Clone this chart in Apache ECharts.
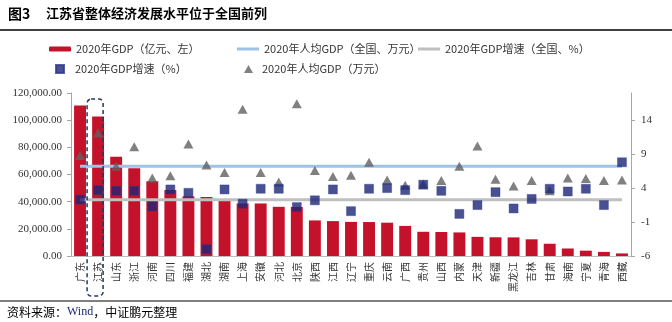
<!DOCTYPE html>
<html>
<head>
<meta charset="utf-8">
<script src="https://cdn.jsdelivr.net/npm/echarts@6/dist/echarts.min.js"></script>
<style>
  html, body { margin: 0; padding: 0; background: #fff; }
  #chart { width: 672px; height: 322px; }
</style>
</head>
<body>
<div id="chart"></div>
<script>
// Provinces, ranked by 2020 GDP
const provinces = ['广东','江苏','山东','浙江','河南','四川','福建','湖北','湖南','上海','安徽','河北','北京','陕西','江西','辽宁','重庆','云南','广西','贵州','山西','内蒙','天津','新疆','黑龙江','吉林','甘肃','海南','宁夏','青海','西藏'];

// 2020 GDP, 100 million yuan (left axis)
const gdp = [110761, 102719, 73129, 64613, 54997, 48599, 43904, 43443, 41782, 38701, 38681, 36207, 36103, 26182, 25692, 25115, 25003, 24522, 22157, 17827, 17652, 17360, 14084, 13798, 13699, 12311, 9017, 5532, 3921, 3006, 1903];

// 2020 GDP growth, % (right axis)
const gdpGrowth = [2.3, 3.7, 3.6, 3.6, 1.3, 3.8, 3.3, -5.0, 3.8, 1.7, 3.9, 3.9, 1.2, 2.2, 3.8, 0.6, 3.9, 4.0, 3.7, 4.5, 3.6, 0.2, 1.5, 3.4, 1.0, 2.4, 3.9, 3.5, 3.9, 1.5, 7.8];

// 2020 GDP per capita, 10 thousand yuan (right axis)
const gdpPerCapita = [8.8, 12.1, 7.2, 10.1, 5.5, 5.8, 10.5, 7.4, 6.3, 15.6, 6.3, 4.9, 16.4, 6.6, 5.7, 5.9, 7.8, 5.2, 4.4, 4.6, 5.1, 7.2, 10.2, 5.3, 4.3, 5.1, 3.6, 5.5, 5.4, 5.1, 5.2];

// National reference levels
const nationalPerCapita = 7.2;
const nationalGrowth = 2.3;

// Right-axis tick values
const rightTicks = [-6, -1, 4, 9, 14];

const highlighted = '江苏';

const names = {
  gdp: '2020年GDP（亿元、左）',
  natPc: '2020年人均GDP（全国、万元）',
  natGr: '2020年GDP增速（全国、%）',
  growth: '2020年GDP增速（%）',
  pc: '2020年人均GDP（万元）'
};

const CJK = '"Noto Sans CJK SC", "Noto Sans", sans-serif';
const SERIF = '"Liberation Serif", "DejaVu Serif", serif';

const chart = echarts.init(document.getElementById('chart'), null, { renderer: 'canvas' });

function legendAt(name, left, top, w, h, extra) {
  return Object.assign({
    data: [name], left: left, top: top, padding: 0,
    itemWidth: w, itemHeight: h, itemGap: 0, selectedMode: false,
    textStyle: { fontFamily: CJK, fontSize: 11, color: '#333', lineHeight: 14 }
  }, extra || {});
}

const rules = [
  { type: 'line', shape: { x1: 0, y1: 30, x2: 672, y2: 30 }, style: { stroke: '#000', lineWidth: 1.5 } },
  { type: 'line', shape: { x1: 0, y1: 301, x2: 672, y2: 301 }, style: { stroke: '#000', lineWidth: 1.2 } }
];

const option = {
  animation: false,
  backgroundColor: '#fff',
  title: [
    { text: '图3', left: 8, top: 7, padding: 0,
      textStyle: { fontFamily: CJK, fontSize: 14, fontWeight: 'bold', color: '#000' } },
    { text: '江苏省整体经济发展水平位于全国前列', left: 46, top: 7, padding: 0,
      textStyle: { fontFamily: CJK, fontSize: 13, fontWeight: 'bold', color: '#000' } },
    { text: '{a|资料来源：}{w|Wind}{a|，中证鹏元整理}', left: 7, top: 306, padding: 0,
      textStyle: { fontWeight: 'normal', rich: {
        a: { fontFamily: CJK, fontSize: 12, fontWeight: 'normal', color: '#000' },
        w: { fontFamily: SERIF, fontSize: 12, fontWeight: 'normal', color: '#1F2A6B' }
      } } }
  ],
  legend: [
    legendAt(names.gdp, 49, 42, 22, 5),
    legendAt(names.natPc, 237, 42, 22, 3, { icon: 'rect' }),
    legendAt(names.natGr, 418, 42, 22, 3, { icon: 'rect' }),
    legendAt(names.growth, 55, 62, 8, 8, { textStyle: { fontFamily: CJK, fontSize: 11, color: '#333', lineHeight: 14, padding: [0, 0, 0, 6] } }),
    legendAt(names.pc, 244, 62, 9, 8, { textStyle: { fontFamily: CJK, fontSize: 11, color: '#333', lineHeight: 14, padding: [0, 0, 0, 4] } })
  ],
  graphic: rules,
  grid: { left: 71, right: 41, top: 93, bottom: 66 },
  xAxis: {
    type: 'category',
    data: provinces,
    axisLine: { lineStyle: { color: '#BFBFBF', width: 1 } },
    axisTick: { show: false },
    axisLabel: { rotate: 90, interval: 0, margin: 6, fontFamily: CJK, fontSize: 10, color: '#333' }
  },
  yAxis: [
    {
      type: 'value', min: 0, max: 120000, interval: 20000,
      splitLine: { show: false },
      axisLine: { show: true, lineStyle: { color: '#A6A6A6' } },
      axisTick: { show: true, inside: false, length: 4, lineStyle: { color: '#A6A6A6' } },
      axisLabel: {
        margin: 9, fontFamily: SERIF, fontSize: 11, color: '#333',
        formatter: v => v.toLocaleString('en-US', { minimumFractionDigits: 2, maximumFractionDigits: 2 })
      }
    },
    {
      type: 'value', min: -6, max: 18, interval: 5, position: 'right',
      splitLine: { show: false },
      axisLine: { show: true, lineStyle: { color: '#A6A6A6' } },
      axisTick: { show: true, inside: false, length: 4, lineStyle: { color: '#A6A6A6' }, customValues: rightTicks },
      axisLabel: { margin: 10, fontFamily: SERIF, fontSize: 11, color: '#333', customValues: rightTicks }
    }
  ],
  series: [
    {
      name: names.gdp, type: 'bar', yAxisIndex: 0, data: gdp,
      barCategoryGap: '34%', z: 1,
      itemStyle: { color: '#C5122B' }
    },
    {
      name: names.natPc, type: 'line', yAxisIndex: 1,
      data: provinces.map(() => nationalPerCapita),
      symbol: 'none', z: 3,
      lineStyle: { color: '#9DC3E6', width: 3 }, itemStyle: { color: '#9DC3E6' }
    },
    {
      name: names.natGr, type: 'line', yAxisIndex: 1,
      data: provinces.map(() => nationalGrowth),
      symbol: 'none', z: 3,
      lineStyle: { color: '#BFBFBF', width: 3 }, itemStyle: { color: '#BFBFBF' }
    },
    {
      name: names.growth, type: 'scatter', yAxisIndex: 1, data: gdpGrowth,
      symbol: 'rect', symbolSize: 9, z: 5,
      itemStyle: { color: '#1C2677', borderColor: '#2E3B8C', borderWidth: 0.5 }
    },
    {
      name: names.pc, type: 'scatter', yAxisIndex: 1, data: gdpPerCapita,
      symbol: 'triangle', symbolSize: [10, 9], z: 4,
      itemStyle: { color: '#606060' }
    }
  ]
};

chart.setOption(option);

// Dashed rounded frame around the highlighted province, placed from the category scale
function frameHighlighted() {
  const cx = chart.convertToPixel({ xAxisIndex: 0 }, highlighted);
  const top = chart.convertToPixel({ yAxisIndex: 0 }, 115500);
  chart.setOption({
    graphic: rules.concat([{
      type: 'rect', z: 10,
      shape: { x: cx - 11, y: top, width: 16, height: 296 - top, r: 4 },
      style: { fill: 'none', stroke: '#1F3864', lineWidth: 1.5, lineDash: [4, 3] }
    }])
  });
}
frameHighlighted();
</script>
</body>
</html>
